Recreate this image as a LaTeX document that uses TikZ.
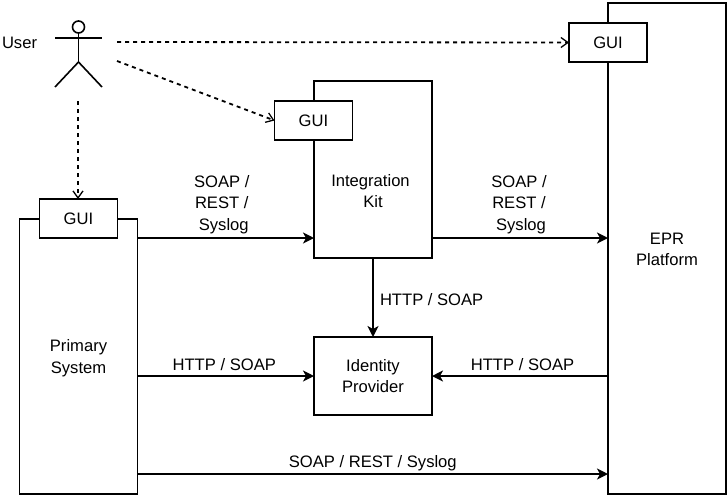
\documentclass[tikz,border=0pt]{standalone}
\usepackage{fontspec}
\setmainfont{Liberation Sans}
\usetikzlibrary{arrows.meta,positioning}

\begin{document}
\begin{tikzpicture}[
  x=1pt, y=-1pt,
  font=\fontsize{16.6}{21.5}\selectfont,
  line width=1.6pt,
  block/.style={draw, fill=white, align=center, outer sep=0pt, inner sep=0pt, minimum width=118pt},
  gui/.style={block, minimum width=78pt, minimum height=39pt},
  lbl/.style={align=center, inner sep=0pt, line width=0pt},
  arr/.style={-{Stealth[length=11pt, width=11pt, inset=3pt]}},
  dash arr/.style={-{Straight Barb[length=7pt, width=10pt, line width=1.3pt]}, line width=1.8pt, dash pattern=on 4pt off 4pt}
]
\useasboundingbox (0,0) rectangle (727,499);

\node[block, minimum height=177pt] (kit) at (373,169.5) {};
\node[block, minimum height=78pt, below=79pt of kit] (idp) {Identity\\Provider};
\node[block, minimum height=275pt] (primary) at (78.5,356.5) {};
\node[block, minimum height=491pt] (epr) at (667,248.5) {};

\node[lbl, below=93pt of kit.north] (kitname) {Integration\hspace*{5pt}\\Kit};
\node[lbl, yshift=-1.5pt] (primaryname) at (primary) {Primary\\System};
\node[lbl, yshift=-1pt] (eprname) at (epr) {EPR\\Platform};
\node[gui] (guikit) at (313.5,120.5) {GUI};
\node[gui, anchor=south] (guiprimary) at (78.5,238) {GUI};
\node[gui] (guiepr) at (608,42.5) {GUI};

\node[lbl, anchor=west] (user) at (2,43) {User};
\node[circle, draw, inner sep=0pt, minimum size=12pt, outer sep=0pt] (head) at (78.5,27) {};
\coordinate (hip) at (78.5,62);
\draw (head) -- (hip);
\draw (55,38) -- (102,38);
\draw (55,87) -- (hip) -- (102,87);

\coordinate (gazeepr) at (117,42);
\coordinate (gazekit) at (117,61);
\coordinate (gazeprimary) at (78,101);

\draw[dash arr] (gazeepr) -- (guiepr.west);
\draw[dash arr] (gazekit) -- (guikit.west);
\draw[dash arr] (gazeprimary) -- (gazeprimary |- guiprimary.north);

\draw[arr] (primary.east |- guiprimary.south) -- (kit.west |- guiprimary.south)
  node[midway, above=4.5pt, xshift=-4pt, lbl] {SOAP /\\REST /\\\hspace*{4pt}Syslog};
\draw[arr] (kit.east |- guiprimary.south) -- (epr.west |- guiprimary.south)
  node[midway, above=4.5pt, xshift=-1pt, lbl] {SOAP /\\REST /\\\hspace*{4pt}Syslog};
\draw[arr] (kit) -- (idp) node[midway, right=7pt, yshift=-2pt, lbl] {HTTP / SOAP};
\draw[arr] (primary.east |- idp) -- (idp) node[midway, above=5pt, xshift=-1.5pt, lbl] {HTTP / SOAP};
\draw[arr] (epr.west |- idp) -- (idp) node[midway, above=5pt, xshift=2.5pt, lbl] {HTTP / SOAP};
\coordinate (low) at (373,474);
\draw[arr] (primary.east |- low) -- (epr.west |- low)
  node[midway, above=3.5pt, lbl] {SOAP / REST / Syslog};

\end{tikzpicture}
\end{document}
